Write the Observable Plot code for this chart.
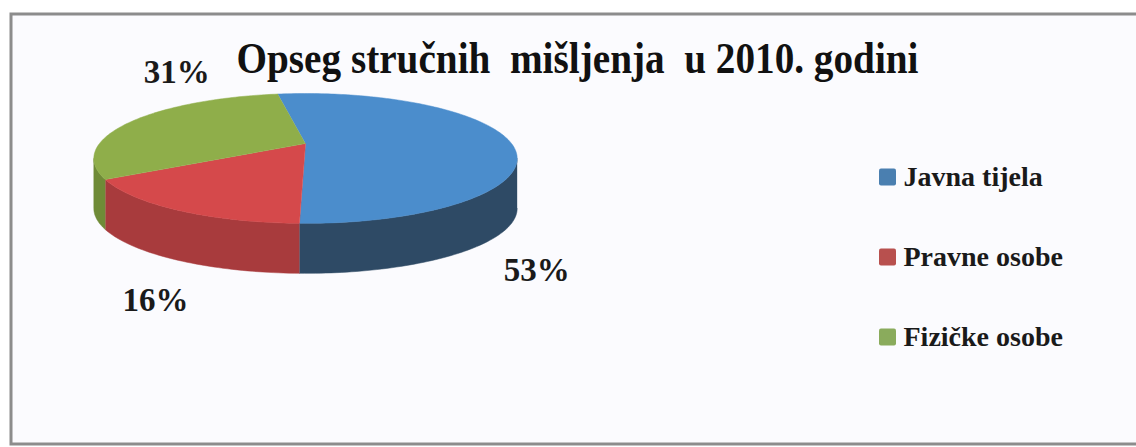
<!DOCTYPE html>
<html>
<head>
<meta charset="utf-8">
<script src="https://cdn.jsdelivr.net/npm/d3@7"></script>
<script src="https://cdn.jsdelivr.net/npm/@observablehq/plot@0.6"></script>
<style>
  html, body { margin: 0; padding: 0; background: #ffffff; }
</style>
</head>
<body>
<div id="chart"></div>
<script>
// ---- data ----
const title = "Opseg stručnih  mišljenja  u 2010. godini";
const categories = ["Javna tijela", "Pravne osobe", "Fizičke osobe"];
const shares = [53, 16, 31];
const percentLabels = ["53%", "16%", "31%"];
const topColors = ["#4b8dcc", "#d5494b", "#8fae4a"];
const sideColors = ["#2e4a65", "#a83b3d", "#6f8b37"];
const legendColors = ["#4a7fb0", "#b8504e", "#8aab5c"];

// ---- layout (pixels) ----
const W = 1136, H = 447;
const serif = "'Liberation Serif', 'Times New Roman', 'DejaVu Serif', serif";
const cx = 305, cy = 143, rx = 206, ry = 61.5, k = 0.23, depth = 50;
const start = -9.5 * Math.PI / 180;
const labelNudge = [[29, 92], [-21, 51], [42, -87]];

function proj(a, h = 0) {
  const d = Math.cos(a), s = 1 + k * d;
  return {x: cx + rx * Math.sin(a) / s, y: cy - ry * d / s + h};
}

const arcs = d3.pie().sort(null).startAngle(start).endAngle(start + 2 * Math.PI)(shares);
const visMin = Math.acos(-k), visMax = 2 * Math.PI - Math.acos(-k);

function arcPts(a0, a1, h) {
  const n = Math.max(2, Math.ceil(Math.abs(a1 - a0) / 0.02));
  return d3.range(n + 1).map(i => proj(a0 + (a1 - a0) * i / n, h));
}

const marks = [];
// frame
marks.push(Plot.rect([0], {x1: () => 11, x2: () => 1150, y1: () => 14, y2: () => 444,
  fill: "#fbfbfe", stroke: "#8c8c8c", strokeWidth: 3}));

// side walls
arcs.forEach((a, i) => {
  const a0 = Math.max(a.startAngle, visMin), a1 = Math.min(a.endAngle, visMax);
  if (a1 <= a0) return;
  const pts = arcPts(a0, a1, 0).concat(arcPts(a1, a0, depth));
  marks.push(Plot.line(pts, {x: "x", y: "y", fill: sideColors[i], stroke: sideColors[i], strokeWidth: 0.5}));
});
// top faces
arcs.forEach((a, i) => {
  const pts = [{x: cx, y: cy}].concat(arcPts(a.startAngle, a.endAngle, 0));
  marks.push(Plot.line(pts, {x: "x", y: "y", fill: topColors[i], stroke: topColors[i], strokeWidth: 0.5}));
});

// percentage labels
const labelData = arcs.map((a, i) => {
  const p = proj((a.startAngle + a.endAngle) / 2, depth);
  return {x: p.x + labelNudge[i][0], y: p.y + labelNudge[i][1], text: percentLabels[i]};
});
marks.push(Plot.text(labelData, {x: "x", y: "y", text: "text", fontSize: 33, fontFamily: serif,
  fontWeight: "bold", textAnchor: "middle", lineAnchor: "bottom", fill: "#1a1a1a"}));

// title
marks.push(Plot.text([title], {x: () => 577, y: () => 72, text: d => d, fontSize: 45, fontFamily: serif,
  fontWeight: "bold", textAnchor: "middle", lineAnchor: "bottom", fill: "#111"}));

// legend
const legendData = categories.map((c, i) => ({c, color: legendColors[i], y: 177 + i * 80}));
marks.push(Plot.rect(legendData, {x1: () => 879, x2: () => 896, y1: d => d.y - 8.5, y2: d => d.y + 8.5,
  fill: d => d.color, rx: 2}));
marks.push(Plot.text(legendData, {x: () => 903, y: d => d.y + 8, text: "c", fontSize: 28, fontFamily: serif,
  fontWeight: "bold", textAnchor: "start", lineAnchor: "bottom", fill: "#1a1a1a"}));

const chart = Plot.plot({
  width: W, height: H, margin: 0,
  x: {domain: [0, W], range: [0, W], axis: null},
  y: {domain: [0, H], range: [0, H], axis: null},
  color: {type: "identity"},
  style: {background: "#ffffff", fontFamily: serif, overflow: "hidden"},
  marks
});
document.getElementById("chart").appendChild(chart);
d3.select(chart).selectAll("text").filter(function () { return this.textContent === title; })
  .attr("textLength", 682).attr("lengthAdjust", "spacingAndGlyphs").style("white-space", "pre");
</script>
</body>
</html>
